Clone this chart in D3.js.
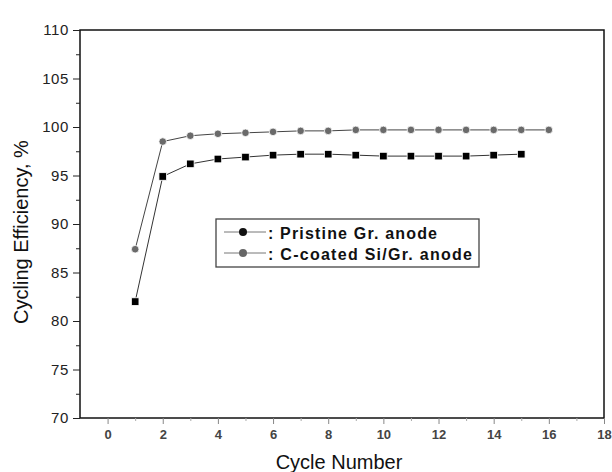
<!DOCTYPE html>
<html><head><meta charset="utf-8">
<script src="https://cdn.jsdelivr.net/npm/d3@7"></script>
<style>body{margin:0;background:#fff}svg{display:block}text{font-family:"Liberation Sans",Arial,sans-serif}</style>
</head><body><svg id="c" width="612" height="472"></svg>
<script>
const cyclesPristine = [1,2,3,4,5,6,7,8,9,10,11,12,13,14,15];
const pristine = [82.0,94.9,96.2,96.7,96.9,97.1,97.2,97.2,97.1,97.0,97.0,97.0,97.0,97.1,97.2];
const cyclesCoated = [1,2,3,4,5,6,7,8,9,10,11,12,13,14,15,16];
const coated = [87.4,98.5,99.1,99.3,99.4,99.5,99.6,99.6,99.7,99.7,99.7,99.7,99.7,99.7,99.7,99.7];
const xTicks = [0,2,4,6,8,10,12,14,16,18];
const yTicks = [70,75,80,85,90,95,100,105,110];
const legendLabels = [": Pristine Gr. anode", ": C-coated Si/Gr. anode"];

const svg = d3.select("#c");
const L=80,R=604,T=30,B=418;
const x = d3.scaleLinear().domain([-1,18]).range([L,R]);
const y = d3.scaleLinear().domain([70,110]).range([B,T]);

// frame
svg.append("rect").attr("x",L).attr("y",T).attr("width",R-L).attr("height",B-T)
  .attr("fill","none").attr("stroke","#111").attr("stroke-width",1.5);

// y axis
const yAx = svg.append("g").attr("transform",`translate(${L},0)`)
  .call(d3.axisLeft(y).tickValues(yTicks).tickSize(7).tickPadding(4));
yAx.select(".domain").remove();
yAx.selectAll("text").attr("font-size",15).attr("letter-spacing",0.6).attr("fill","#222");
yAx.selectAll("line").attr("stroke","#222");
svg.append("g").attr("transform",`translate(${L},0)`)
  .call(d3.axisLeft(y).tickValues(d3.range(72.5,110,5)).tickSize(4).tickFormat(""))
  .call(g=>g.select(".domain").remove()).selectAll("line").attr("stroke","#222");

// x axis
const xAx = svg.append("g").attr("transform",`translate(0,${B})`)
  .call(d3.axisBottom(x).tickValues(xTicks).tickSize(6).tickPadding(6));
xAx.select(".domain").remove();
xAx.selectAll("text").attr("font-size",13).attr("font-weight","bold").attr("fill","#444");
xAx.selectAll("line").attr("stroke","#888");
svg.append("g").attr("transform",`translate(0,${B})`)
  .call(d3.axisBottom(x).tickValues(d3.range(1,18,2)).tickSize(3).tickFormat(""))
  .call(g=>g.select(".domain").remove()).selectAll("line").attr("stroke","#aaa");

// axis titles
svg.append("text").attr("x",339).attr("y",469).attr("text-anchor","middle")
  .attr("font-size",20).attr("fill","#111").text("Cycle Number");
svg.append("text").attr("transform",`translate(28,232) rotate(-90)`)
  .attr("text-anchor","middle").attr("font-size",20).attr("fill","#111").text("Cycling Efficiency, %");

const line = d3.line().x(d=>x(d[0])).y(d=>y(d[1]));
const pData = cyclesPristine.map((c,i)=>[c,pristine[i]]);
const cData = cyclesCoated.map((c,i)=>[c,coated[i]]);

svg.append("path").datum(cData).attr("d",line).attr("fill","none").attr("stroke","#444").attr("stroke-width",1);
svg.append("path").datum(pData).attr("d",line).attr("fill","none").attr("stroke","#333").attr("stroke-width",1);

svg.selectAll(".cc").data(cData).enter().append("circle")
  .attr("cx",d=>x(d[0])).attr("cy",d=>y(d[1])).attr("r",3.8).attr("fill","#6a6a6a").attr("stroke","#fff").attr("stroke-width",0.8);
svg.selectAll(".sq").data(pData).enter().append("rect")
  .attr("x",d=>x(d[0])-3.8).attr("y",d=>y(d[1])-3.8).attr("width",7.6).attr("height",7.6)
  .attr("fill","#000").attr("stroke","#fff").attr("stroke-width",0.8);

// legend
const lg = svg.append("g");
lg.append("rect").attr("x",216).attr("y",219).attr("width",263).attr("height",48)
  .attr("fill","#fff").attr("stroke","#444").attr("stroke-width",1.3);
const lColors = ["#111","#666"];
legendLabels.forEach((t,i)=>{
  const cy = 232 + i*21;
  lg.append("line").attr("x1",224).attr("x2",266).attr("y1",cy).attr("y2",cy).attr("stroke","#777").attr("stroke-width",1);
  lg.append("circle").attr("cx",243).attr("cy",cy).attr("r",4).attr("fill",lColors[i]);
  lg.append("text").attr("x",268).attr("y",cy+7).attr("font-size",16).attr("font-weight","bold")
    .attr("fill","#111").attr("textLength", i===0?169:204).attr("lengthAdjust","spacing").text(t);
});
</script></body></html>
